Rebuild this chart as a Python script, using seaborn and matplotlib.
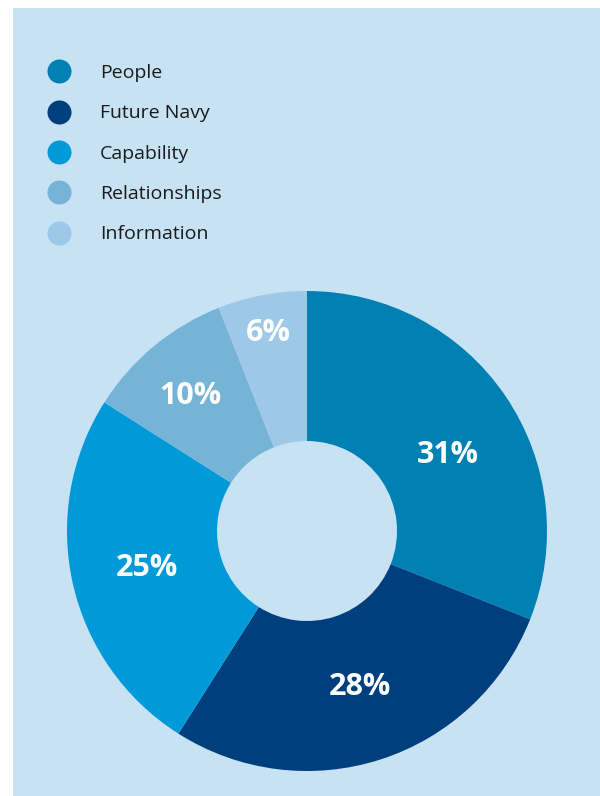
import matplotlib
matplotlib.use("Agg")
import matplotlib.pyplot as plt
from matplotlib.patches import Rectangle
from matplotlib.lines import Line2D
import numpy as np
import seaborn as sns

categories = ["People", "Future Navy", "Capability", "Relationships", "Information"]
values = [31, 28, 25, 10, 6]
colors_hex = ["#0180B4", "#003F7E", "#019AD8", "#75B3D7", "#9DC8E8"]
pct_labels = ["31%", "28%", "25%", "10%", "6%"]

sns.set_theme(style="white")
plt.rcParams["font.family"] = ["Open Sans", "DejaVu Sans"]
palette = sns.color_palette(colors_hex)

W, H = 600, 796
fig = plt.figure(figsize=(W / 100, H / 100), dpi=100, facecolor="white")
ax = fig.add_axes([0, 0, 1, 1])
ax.set_xlim(0, W)
ax.set_ylim(0, H)
ax.set_aspect("equal")
ax.axis("off")

bg = "#C6E2F3"
ax.add_patch(Rectangle((13, 0), W - 13, H - 8, facecolor=bg, edgecolor="none", zorder=0))

cx, cy = 307, H - 531
R = 240
inner = 90
wedges, _ = ax.pie(values, colors=palette, startangle=90, counterclock=False,
                   center=(cx, cy), radius=R, frame=True,
                   wedgeprops=dict(width=R - inner, edgecolor="none", linewidth=0))
ax.set_xlim(0, W)
ax.set_ylim(0, H)
ax.axis("off")

rfac = [0.673, 0.675, 0.68, 0.754, 0.853]
angoff = [-4.9, 1.1, -0.6, 0.7, 0.0]
for w, lab, rf, ao in zip(wedges, pct_labels, rfac, angoff):
    th = np.deg2rad((w.theta1 + w.theta2) / 2 + ao)
    x = cx + R * rf * np.cos(th)
    y = cy + R * rf * np.sin(th) - 3
    ax.text(x, y, lab, ha="center", va="center", color="white",
            fontsize=22, fontweight="bold", zorder=5)

handles = [Line2D([0], [0], marker="o", linestyle="none", markersize=17.3,
                  markerfacecolor=c, markeredgecolor="none") for c in palette]
leg = ax.legend(handles, categories, loc="upper left",
                bbox_to_anchor=(44.4, H - 64), bbox_transform=ax.transData,
                frameon=False, fontsize=14, handlelength=1.5, handletextpad=1.36,
                labelspacing=1.15, borderpad=0, borderaxespad=0)
for t in leg.get_texts():
    t.set_color("#1a1a1a")

fig.savefig("out.png", dpi=100, facecolor="white")
